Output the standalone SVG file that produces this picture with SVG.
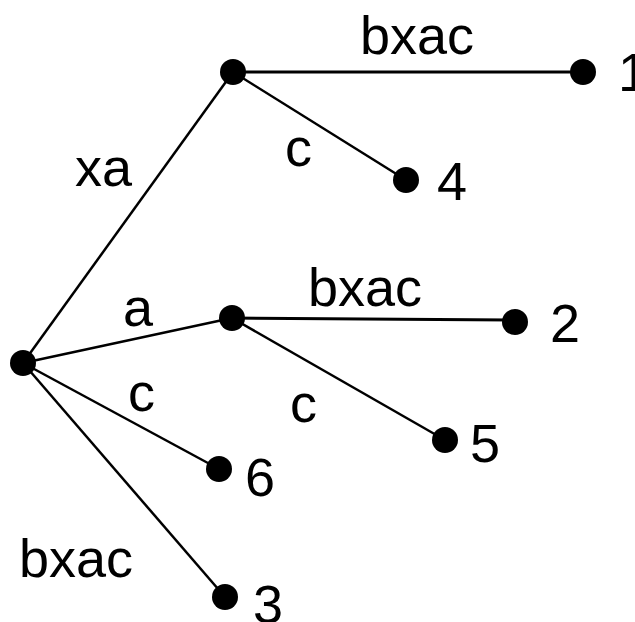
<svg xmlns="http://www.w3.org/2000/svg" width="635" height="622" viewBox="0 0 635 622">
<style>
.e{stroke:#000;stroke-width:2.5;fill:none}
.n{fill:#000}
.t{font-family:"Liberation Sans",Arial,sans-serif;font-size:54px;fill:#000}
</style>
<rect width="635" height="622" fill="#fff"/>
<g id="edges">
<line class="e" x1="23" y1="363" x2="233" y2="72"/>
<line class="e" x1="23" y1="363" x2="232" y2="318"/>
<line class="e" x1="23" y1="363" x2="219" y2="469"/>
<line class="e" x1="23" y1="363" x2="225" y2="597"/>
<line class="e" x1="233" y1="72" x2="583" y2="72" style="stroke-width:3"/>
<line class="e" x1="233" y1="72" x2="406" y2="180"/>
<line class="e" x1="232" y1="318" x2="515" y2="320" style="stroke-width:3"/>
<line class="e" x1="232" y1="318" x2="445" y2="440"/>
<text class="t" x="360" y="54">bxac</text>
<text class="t" x="75" y="186">xa</text>
<text class="t" x="285" y="166">c</text>
<text class="t" x="123" y="326">a</text>
<text class="t" x="308" y="306">bxac</text>
<text class="t" x="290" y="422">c</text>
<text class="t" x="128" y="411">c</text>
<text class="t" x="19" y="577">bxac</text>
</g>
<g id="root"><circle class="n" cx="23" cy="363" r="13"/></g>
<g id="nodeA"><circle class="n" cx="233" cy="72" r="13"/></g>
<g id="nodeB"><circle class="n" cx="232" cy="318" r="13"/></g>
<g id="leaf1"><circle class="n" cx="583" cy="72" r="13"/><text class="t" x="618" y="91">1</text></g>
<g id="leaf4"><circle class="n" cx="406" cy="180" r="13"/><text class="t" x="437" y="200">4</text></g>
<g id="leaf2"><circle class="n" cx="515" cy="322" r="13"/><text class="t" x="550" y="342">2</text></g>
<g id="leaf5"><circle class="n" cx="445" cy="440" r="13"/><text class="t" x="470" y="462">5</text></g>
<g id="leaf6"><circle class="n" cx="219" cy="469" r="13"/><text class="t" x="245" y="496">6</text></g>
<g id="leaf3"><circle class="n" cx="225" cy="597" r="13"/><text class="t" x="253" y="623">3</text></g>
</svg>
